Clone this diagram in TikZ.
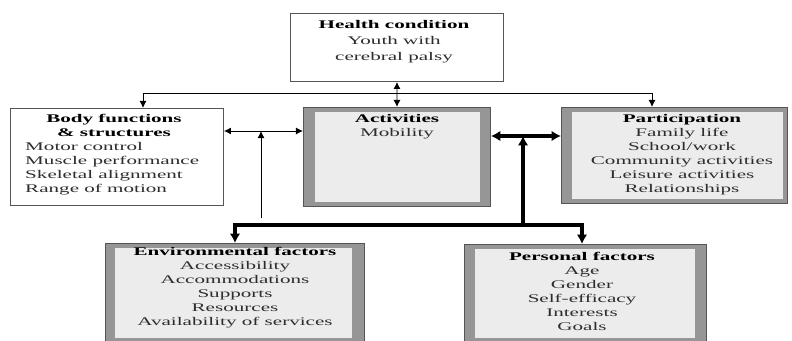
\documentclass[tikz,border=0pt]{standalone}
\usepackage{fontspec}
\setmainfont[FakeStretch=1.8]{Liberation Serif}
\usetikzlibrary{positioning,arrows.meta}

\definecolor{frameGray}{RGB}{150,150,150}
\definecolor{fillGray}{RGB}{236,236,236}
\definecolor{edgeGray}{RGB}{85,85,85}
\definecolor{textGray}{RGB}{45,45,45}

\tikzset{
  plainbox/.style={draw=edgeGray, line width=0.8pt, fill=white, anchor=north west, inner sep=0},
  outerbox/.style={draw=edgeGray, line width=0.8pt, fill=frameGray, anchor=north west, inner sep=0},
  innerbox/.style={fill=fillGray, anchor=north west, inner sep=0},
  txt/.style={anchor=north, inner sep=0, align=center, text=textGray,
    font=\fontsize{10}{11.9}\selectfont},
  thinarrow/.style={line width=0.8pt, -{Latex[length=6pt,width=6pt]}},
  dblthin/.style={line width=0.8pt, {Latex[length=6pt,width=6pt]}-{Latex[length=6pt,width=6pt]}},
  thickarrow/.style={line width=3.4pt, -{Latex[length=8pt,width=9pt]}},
  dblthick/.style={line width=3.4pt, {Latex[length=8pt,width=9pt]}-{Latex[length=8pt,width=9pt]}}
}

\begin{document}
\begin{tikzpicture}[x=0.03cm, y=-0.03cm]
    \useasboundingbox (0,0) rectangle (792,341);

    % Cajas
    \node[plainbox, minimum width=6.39cm, minimum height=2.04cm] (health) at (290,13) {};
    \node[plainbox, minimum width=6.39cm, minimum height=2.91cm] (body) at (10,108) {};
    \node[outerbox, minimum width=5.61cm, minimum height=2.97cm] (act) at (303,107) {};
    \node[innerbox, minimum width=4.95cm, minimum height=2.70cm] (acti) at (315,112) {};
    \node[outerbox, minimum width=6.78cm, minimum height=2.88cm] (part) at (561,107) {};
    \node[innerbox, minimum width=6.33cm, minimum height=2.61cm] (parti) at (572,112) {};
    \node[outerbox, minimum width=7.77cm, minimum height=2.94cm] (env) at (105,243) {};
    \node[innerbox, minimum width=7.11cm, minimum height=2.70cm] (envi) at (115,248) {};
    \node[outerbox, minimum width=7.26cm, minimum height=2.91cm] (pers) at (464,244) {};
    \node[innerbox, minimum width=6.60cm, minimum height=2.67cm] (persi) at (475,249) {};

    % Textos
    \node[txt, font=\fontsize{10}{13.6}\selectfont] (healthtxt) at (394,20)
        {\textcolor{black}{\textbf{Health condition}}\\Youth with\\cerebral palsy};
    \node[txt] (bodytitle) at (114,114) {\textcolor{black}{\textbf{Body functions}}\\\textcolor{black}{\textbf{\& structures}}};
    \node[txt, anchor=north west, align=left] (bodytxt) at (25,142)
        {Motor control\\Muscle performance\\Skeletal alignment\\Range of motion};
    \node[txt] (acttxt) at (397,114) {\textcolor{black}{\textbf{Activities}}\\Mobility};
    \node[txt] (parttxt) at (682,114)
        {\textcolor{black}{\textbf{Participation}}\\Family life\\School/work\\Community activities\\Leisure activities\\Relationships};
    \node[txt] (envtxt) at (235,247)
        {\textcolor{black}{\textbf{Environmental factors}}\\Accessibility\\Accommodations\\Supports\\Resources\\Availability of services};
    \node[txt] (perstxt) at (582,252)
        {\textcolor{black}{\textbf{Personal factors}}\\Age\\Gender\\Self-efficacy\\Interests\\Goals};

    % Conexiones finas
    \coordinate (topM) at (396.5,93);
    \coordinate (topL) at (143,93);
    \coordinate (topR) at (652,93);
    \coordinate (ba) at (261,131);
    \coordinate (envup) at (261,218);
    \draw[dblthin] (health.south) -- (act.north);
    \draw[thinarrow] (topM) -- (topL) -- (topL |- body.north);
    \draw[thinarrow] (topM) -- (topR) -- (topR |- part.north);
    \draw[dblthin] (ba -| body.east) -- (ba -| act.west);
    \draw[thinarrow] (envup) -- (ba);

    % Conexiones gruesas
    \coordinate (ap) at (523,136);
    \coordinate (hub) at (523,225);
    \coordinate (botL) at (235,225);
    \coordinate (botR) at (582,225);
    \draw[dblthick] (ap -| act.east) -- (ap -| part.west);
    \draw[thickarrow] (hub) -- (ap);
    \draw[thickarrow] (hub) -- (botL) -- (botL |- env.north);
    \draw[thickarrow] (hub) -- (botR) -- (botR |- pers.north);
\end{tikzpicture}
\end{document}
